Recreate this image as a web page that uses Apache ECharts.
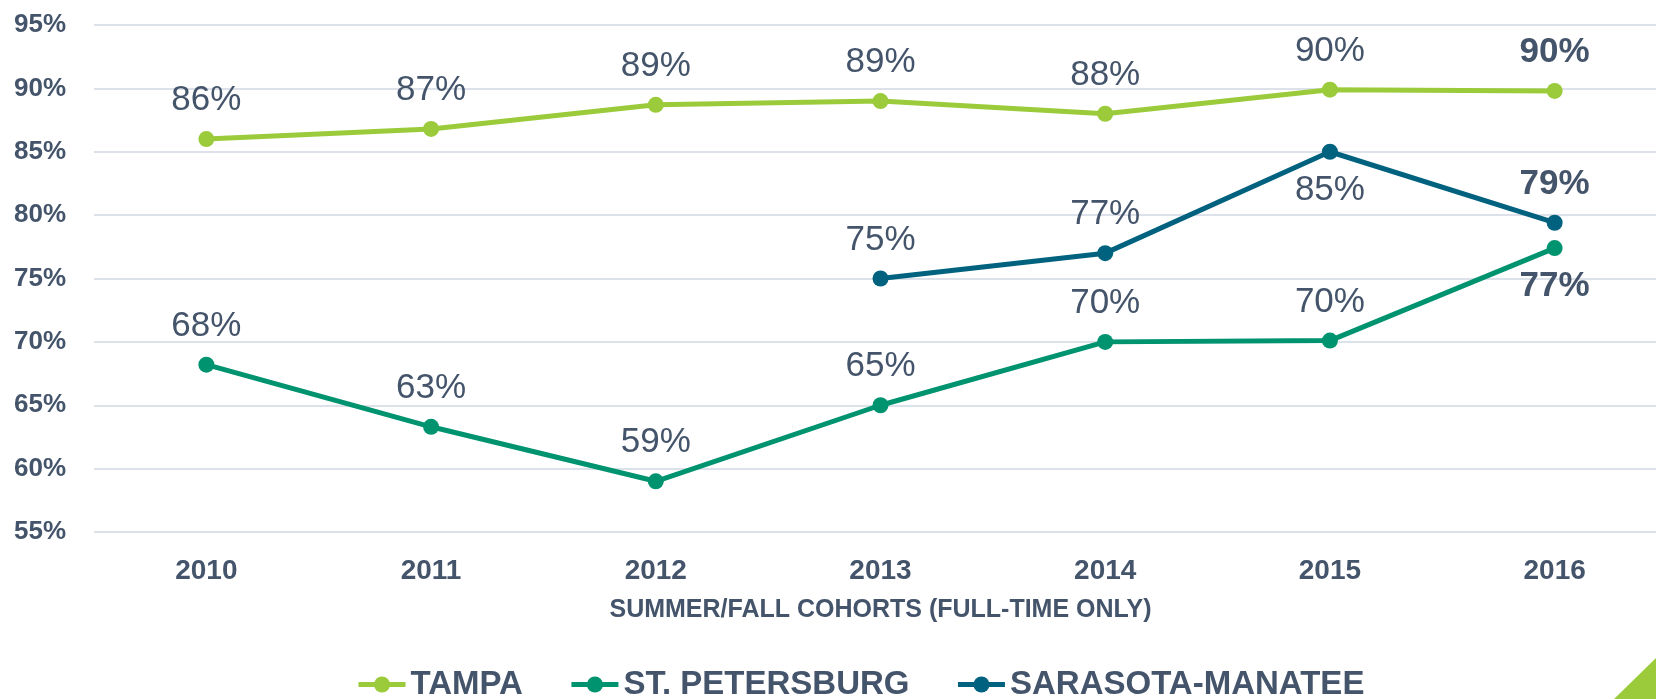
<!DOCTYPE html>
<html>
<head>
<meta charset="utf-8">
<title>Retention by cohort</title>
<script src="https://cdn.jsdelivr.net/npm/echarts@6/dist/echarts.min.js"></script>
<style>
  html, body { margin: 0; padding: 0; background: #fff; }
  #chart { width: 1656px; height: 699px; }
</style>
</head>
<body>
<div id="chart"></div>
<script>
// chart data
var years = ['2010', '2011', '2012', '2013', '2014', '2015', '2016']
var tampa = [86.0, 86.8, 88.7, 89.0, 88.0, 89.9, 89.8]
var stPete = [68.2, 63.3, 59.0, 65.0, 70.0, 70.1, 77.4]
var sarasota = [null, null, null, 75.0, 77.0, 85.0, 79.4]
var seriesNames = ['TAMPA', 'ST. PETERSBURG', 'SARASOTA-MANATEE']
var yTicks = { min: 55, max: 95, step: 5 }

var textColor = '#44546a'
// no narrow font in the sandbox, sizes are shrunk a bit to keep the widths close
var font = "'Liberation Sans Narrow', 'Arial Narrow', 'Liberation Sans', Arial, sans-serif"

// labels go under the point for these (series index -> year index)
var below = { 1: [6], 2: [5] }
var lastIdx = years.length - 1

function buildData(values, sIdx) {
  return values.map(function(v, i) {
    if (v === null) return '-'
    var item = { value: v }
    var lbl = {}
    if ((below[sIdx] || []).indexOf(i) > -1) lbl.position = 'bottom'
    if (i === lastIdx) lbl.fontWeight = 'bold'
    item.label = lbl
    return item
  })
}

var colors = ['#9bcb3b', '#00936f', '#00627f']
var allValues = [tampa, stPete, sarasota]

var chart = echarts.init(document.getElementById('chart'))

chart.setOption({
  animation: false,
  // plot area runs a little past the right edge of the canvas
  grid: {
    left: 94,
    width: 1573,
    top: 25,
    bottom: 167,
    outerBoundsMode: 'none'
  },
  legend: {
    data: seriesNames,
    left: 351,
    top: 663,
    itemWidth: 47,
    itemHeight: 20,
    itemGap: 46,
    lineStyle: { width: 5 },
    textStyle: {
      color: textColor,
      fontFamily: font,
      fontWeight: 'bold',
      fontSize: 33
    }
  },
  xAxis: {
    type: 'category',
    data: years,
    boundaryGap: true,
    name: 'SUMMER/FALL COHORTS (FULL-TIME ONLY)',
    nameLocation: 'middle',
    nameGap: 66,
    nameTextStyle: {
      color: textColor,
      fontFamily: font,
      fontWeight: 'bold',
      fontSize: 25,
      verticalAlign: 'top'
    },
    axisLine: { show: false },
    axisTick: { show: false },
    axisLabel: {
      color: textColor,
      fontFamily: font,
      fontWeight: 'bold',
      fontSize: 28,
      margin: 25
    }
  },
  yAxis: {
    type: 'value',
    min: yTicks.min,
    max: yTicks.max,
    interval: yTicks.step,
    axisLine: { show: false },
    axisTick: { show: false },
    splitLine: {
      lineStyle: { color: '#dde2ea', width: 2 }
    },
    axisLabel: {
      formatter: '{value}%',
      color: textColor,
      fontFamily: font,
      fontWeight: 'bold',
      fontSize: 26,
      margin: 28
    }
  },
  series: allValues.map(function(vals, s) {
    return {
      name: seriesNames[s],
      type: 'line',
      data: buildData(vals, s),
      symbol: 'circle',
      symbolSize: 16,
      color: colors[s],
      lineStyle: { color: colors[s], width: 5 },
      label: {
        show: true,
        position: 'top',
        distance: 13,
        color: textColor,
        fontFamily: font,
        fontSize: 35,
        formatter: function(p) {
          return Math.round(p.value) + '%'
        }
      }
    }
  }),
  graphic: [{
    type: 'polygon',
    shape: { points: [[1614, 699], [1656, 658], [1656, 699]] },
    style: { fill: '#9bcb3b' },
    silent: true
  }]
})
</script>
</body>
</html>
